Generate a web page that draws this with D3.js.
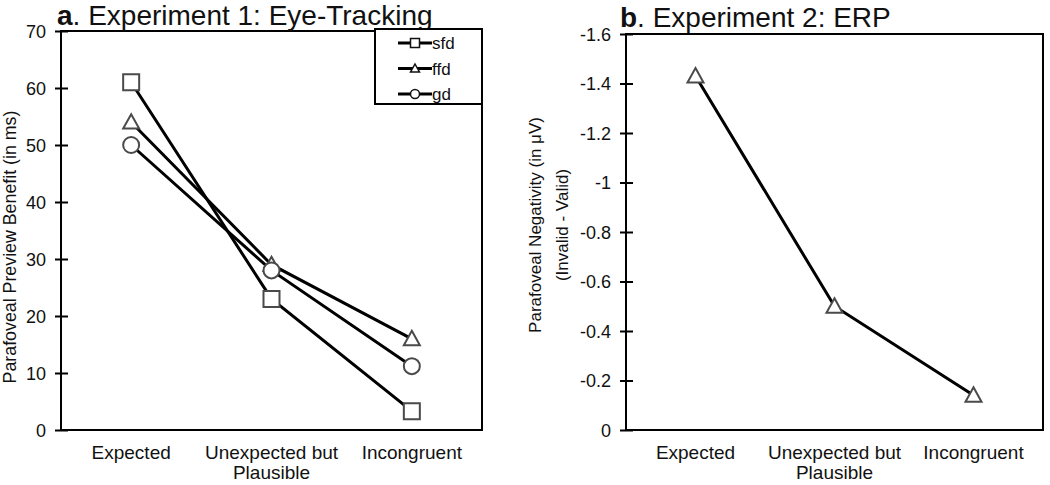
<!DOCTYPE html>
<html><head><meta charset="utf-8">
<script src="https://cdn.jsdelivr.net/npm/d3@7"></script>
<style>body{margin:0;background:#fff}svg{display:block}text{font-family:"Liberation Sans",Arial,sans-serif;fill:#111}</style>
</head><body><svg id="c" width="1050" height="485"></svg>
<script>
const categories = ["Expected", "Unexpected but|Plausible", "Incongruent"];
const sfd = [61, 23, 3.3];
const ffd = [54, 29, 16];
const gd = [50, 28, 11.2];
const erp = [-1.43, -0.50, -0.14];
const ticksA = [0, 10, 20, 30, 40, 50, 60, 70];
const ticksB = [0, -0.2, -0.4, -0.6, -0.8, -1, -1.2, -1.4, -1.6];

const svg = d3.select("#c");

function symbolPath(type, size) {
  const s = size / 2;
  if (type === "square") return `M${-s},${-s}H${s}V${s}H${-s}Z`;
  if (type === "triangle") return `M0,${-s}L${s},${s*0.8}H${-s}Z`;
  return d3.arc()({innerRadius: 0, outerRadius: s, startAngle: 0, endAngle: 2*Math.PI});
}

function panel(cfg) {
  const g = svg.append("g");
  const x = d3.scaleBand().domain(categories).range([cfg.left, cfg.right]);
  const y = d3.scaleLinear().domain(cfg.domain).range([cfg.bottom, cfg.top]);
  const cx = c => x(c) + x.bandwidth() / 2;
  g.append("rect").attr("x", cfg.left).attr("y", cfg.top)
    .attr("width", cfg.right - cfg.left).attr("height", cfg.bottom - cfg.top)
    .attr("fill", "none").attr("stroke", "#000").attr("stroke-width", 2);
  const ax = g.append("g").attr("transform", `translate(${cfg.left},0)`)
    .call(d3.axisLeft(y).tickValues(cfg.ticks).tickSize(0).tickPadding(15).tickFormat(d => String(d)));
  ax.select(".domain").remove();
  ax.selectAll("text").attr("font-size", 18).attr("fill", "#111").attr("dy", "0.34em")
    .style("font-family", "Liberation Sans, Arial, sans-serif");
  ax.selectAll(".tick").append("line").attr("x1", -6).attr("x2", 7).attr("stroke", "#000").attr("stroke-width", 2);
  categories.forEach(c => {
    const parts = c.split("|");
    const t = g.append("text").attr("x", cx(c)).attr("y", cfg.bottom + 29)
      .attr("text-anchor", "middle").attr("font-size", 19);
    parts.forEach((p, i) => t.append("tspan").attr("x", cx(c)).attr("dy", i ? 20 : 0).text(p));
  });
  const line = d3.line().x((d, i) => cx(categories[i])).y(d => y(d));
  cfg.series.forEach(s => {
    g.append("path").attr("d", line(s.values)).attr("fill", "none").attr("stroke", "#000").attr("stroke-width", 3);
  });
  cfg.series.forEach(s => {
    s.values.forEach((v, i) => {
      g.append("path").attr("d", symbolPath(s.shape, 16))
        .attr("transform", `translate(${cx(categories[i])},${y(v)})`)
        .attr("fill", "#fff").attr("stroke", "#4a4a4a").attr("stroke-width", 2);
    });
  });
  const t = g.append("text").attr("x", cfg.titleX).attr("y", cfg.titleY).attr("font-size", 28);
  t.append("tspan").attr("font-weight", "bold").text(cfg.letter);
  t.append("tspan").text(cfg.title);
  const yt = g.append("text").attr("transform", `translate(${cfg.ytX},${cfg.ytY}) rotate(-90)`)
    .attr("text-anchor", "middle").attr("font-size", cfg.ytSize);
  cfg.ytitle.forEach((p, i) => yt.append("tspan").attr("x", 0).attr("dy", i ? cfg.ytGap : 0).text(p));
  return {g, x, y};
}

const A = panel({left: 61, right: 482, top: 31, bottom: 430, domain: [0, 70], ticks: ticksA,
  series: [{values: sfd, shape: "square"}, {values: ffd, shape: "triangle"}, {values: gd, shape: "circle"}],
  letter: "a", title: ". Experiment 1: Eye-Tracking", titleX: 57, titleY: 25,
  ytitle: ["Parafoveal Preview Benefit (in ms)"], ytX: 16, ytY: 247, ytSize: 17.8, ytGap: 0});

const legend = [{name: "sfd", shape: "square"}, {name: "ffd", shape: "triangle"}, {name: "gd", shape: "circle"}];
A.g.append("rect").attr("x", 375).attr("y", 29).attr("width", 107).attr("height", 75)
  .attr("fill", "#fff").attr("stroke", "#000").attr("stroke-width", 2);
legend.forEach((l, i) => {
  const yy = 43 + i * 25.5;
  A.g.append("line").attr("x1", 398).attr("x2", 432).attr("y1", yy).attr("y2", yy).attr("stroke", "#000").attr("stroke-width", 3);
  A.g.append("path").attr("d", symbolPath(l.shape, 9)).attr("transform", `translate(415,${yy})`)
    .attr("fill", "#fff").attr("stroke", "#111").attr("stroke-width", 1.5);
  A.g.append("text").attr("x", 432).attr("y", yy + 6).attr("font-size", 17).text(l.name);
});

panel({left: 626, right: 1043, top: 34, bottom: 430, domain: [0, -1.6], ticks: ticksB,
  series: [{values: erp, shape: "triangle"}],
  letter: "b", title: ". Experiment 2: ERP", titleX: 620, titleY: 27,
  ytitle: ["Parafoveal Negativity (in μV)", "(Invalid - Valid)"], ytX: 541, ytY: 225, ytSize: 17, ytGap: 27});
</script></body></html>
